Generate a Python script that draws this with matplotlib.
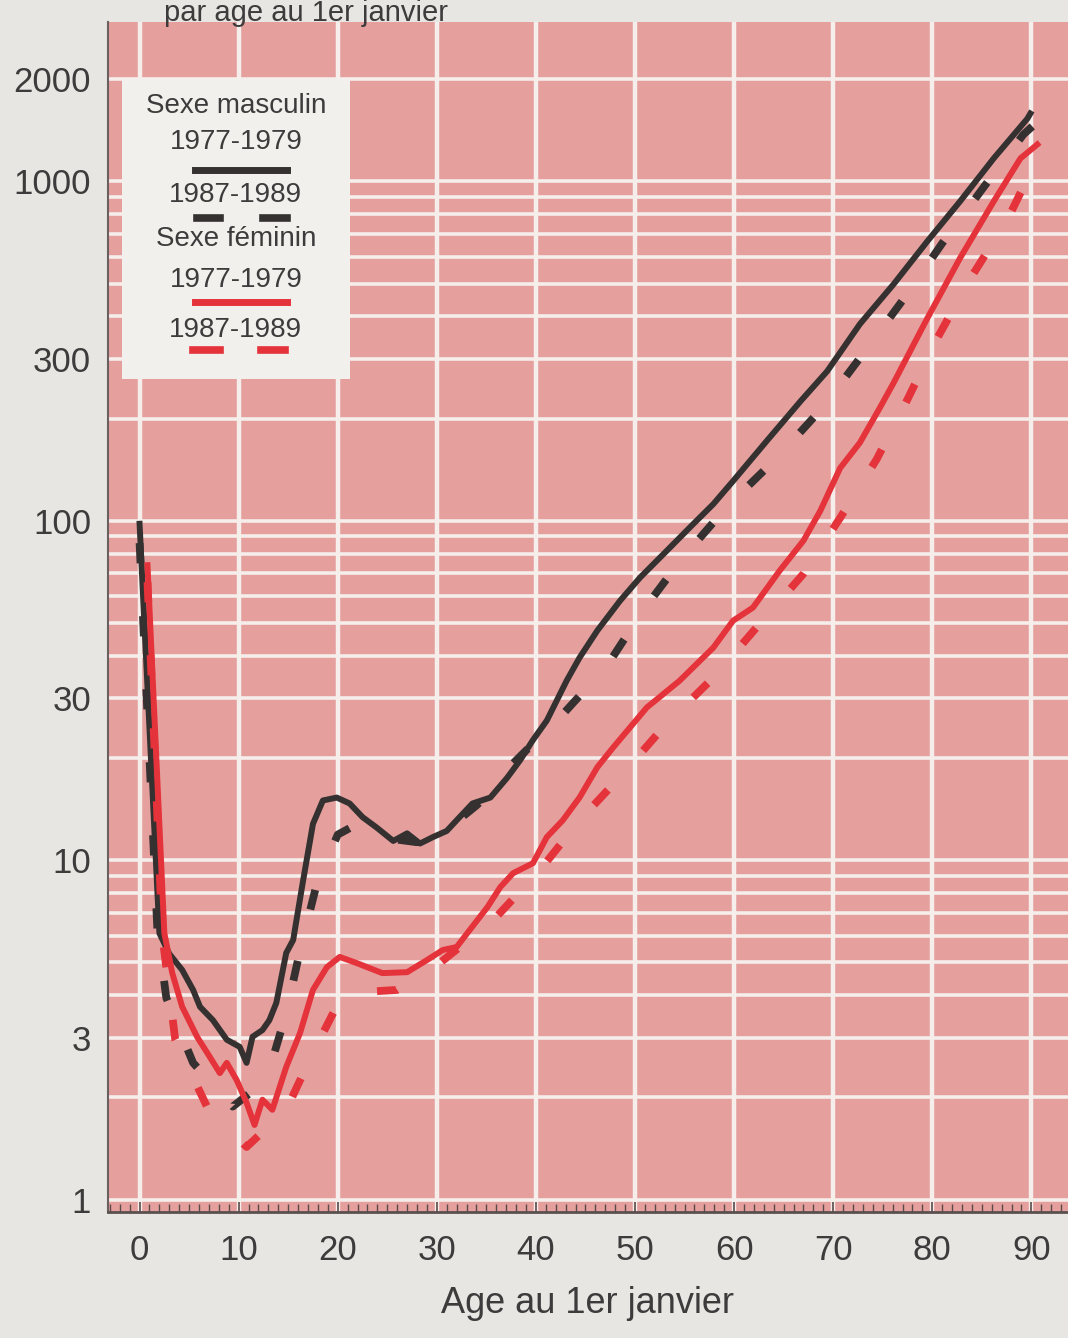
import numpy as np
import matplotlib.pyplot as plt
from matplotlib.patches import Rectangle
from matplotlib.lines import Line2D
from matplotlib.ticker import FixedLocator, LogLocator, MultipleLocator, NullFormatter

plt.rcParams["font.family"] = ["Liberation Sans", "DejaVu Sans"]

# ---------- data: quotients de mortalite (pour 10 000) par age ----------
m77_age = [0, 2, 3, 4.3, 5.4, 6.1, 7.4, 8.8, 10.1, 10.8, 11.4, 12.4, 13.1, 13.8, 14.8,
           15.5, 16.5, 17.5, 18.5, 19.9, 21.2, 22.5, 23.9, 25.6, 27.0, 28.3, 29.6, 31.0,
           32.3, 33.6, 35.4, 37.1, 38.4, 39.7, 41.1, 43.1, 44.4, 46.2, 48.5, 50.5, 53.2,
           55.9, 57.9, 59.9, 63.3, 66.7, 69.4, 72.7, 76.1, 79.5, 82.8, 86.2, 89.6, 89.9]
m77_val = [98, 6.1, 5.3, 4.75, 4.15, 3.7, 3.38, 2.96, 2.82, 2.53, 3.02, 3.16, 3.38, 3.8, 5.33,
           5.82, 8.7, 12.8, 15.0, 15.3, 14.7, 13.4, 12.5, 11.4, 12.0, 11.2, 11.7, 12.2,
           13.4, 14.7, 15.3, 17.5, 19.7, 22.6, 25.8, 33.8, 39.5, 47.5, 58.2, 68.0, 81.6,
           98.0, 112, 131, 172, 225, 276, 380, 498, 666, 873, 1169, 1531, 1585]

m87_age = [0, 1.8, 2.7, 5.4, 9.4, 12.8, 14.8, 16.2, 17.9, 20.0, 22.0, 24.0, 26.0, 28.0,
           30.0, 32.0, 34.0, 36.0, 37.7, 40.0, 42.4, 47.2, 50.8, 54.8, 59.4, 64.3, 68.9,
           73.0, 77.1, 81.0, 85.1, 89.2, 90.1]
m87_val = [86, 6.2, 3.93, 2.53, 1.88, 2.25, 3.55, 5.43, 8.56, 11.9, 12.8, 12.1, 11.5, 11.3,
           11.8, 13.0, 14.5, 16.5, 19.3, 22.5, 26.3, 37.5, 54.4, 77.8, 111, 153, 215,
           310, 450, 657, 954, 1375, 1452]

f77_age = [0.8, 2.5, 3.3, 4.3, 5.8, 7.1, 8.1, 8.8, 9.8, 10.8, 11.6, 12.4, 13.4, 14.8, 16.2,
           17.5, 18.9, 20.2, 21.9, 24.5, 27.0, 29.0, 30.6, 32.0, 33.3, 35.1, 36.4, 37.7,
           39.7, 41.1, 42.7, 44.4, 46.2, 47.8, 51.2, 54.5, 57.9, 59.9, 61.9, 64.6, 67.0,
           68.7, 70.7, 72.7, 74.7, 76.1, 79.5, 82.8, 86.2, 88.9, 90.6]
f77_val = [74, 6.1, 4.65, 3.7, 3.02, 2.63, 2.36, 2.53, 2.25, 1.93, 1.66, 1.97, 1.84, 2.46, 3.1,
           4.15, 4.84, 5.19, 4.98, 4.65, 4.68, 5.08, 5.44, 5.55, 6.22, 7.27, 8.33, 9.16,
           9.8, 11.7, 13.1, 15.3, 18.8, 21.5, 28.2, 33.8, 42.3, 50.8, 55.5, 71.3, 87.4,
           107, 143, 170, 215, 255, 395, 594, 873, 1169, 1285]

f87_age = [0.8, 2.3, 3.6, 6.8, 10.8, 14.8, 17.5, 20.2, 23.0, 26.0, 30.3, 35.7, 40.4, 44.4,
           48.8, 53.2, 57.9, 62.6, 67.0, 70.7, 74.4, 77.5, 80.5, 83.8, 87.6, 90.2]
f87_val = [66, 6.0, 2.96, 1.88, 1.43, 1.84, 2.71, 3.87, 4.1, 4.15, 4.98, 6.66, 9.35, 13.1,
           18.0, 25.3, 34.5, 49.8, 69.8, 102, 152, 228, 345, 515, 773, 1107]

y_ticks = [1, 3, 10, 30, 100, 300, 1000, 2000]
x_ticks = [0, 10, 20, 30, 40, 50, 60, 70, 80, 90]

# ---------- style ----------
BG = "#e8e6e2"
PINK = "#e5a09e"
GRID = "#f5eeeb"
BLACK = "#363131"
RED = "#e5333b"
TXT = "#3d3b3b"

fig = plt.figure(figsize=(10.68, 13.38), dpi=100, facecolor=BG)
ax = fig.add_axes([0.101, 0.0942, 0.899, 0.8894])
ax.set_facecolor(PINK)
ax.set_yscale("log")
ax.set_xlim(-3.2, 93.7)
ax.set_ylim(0.92, 2950)
ax.set_axisbelow(True)

# grid
ax.xaxis.set_major_locator(FixedLocator(x_ticks))
ax.xaxis.set_minor_locator(MultipleLocator(1))
ax.yaxis.set_major_locator(FixedLocator(y_ticks))
ax.yaxis.set_minor_locator(LogLocator(base=10, subs=np.arange(1, 10)))
ax.yaxis.set_minor_formatter(NullFormatter())
ax.set_yticklabels([str(v) for v in y_ticks])
ax.grid(True, axis="x", which="major", color=GRID, lw=3.2)
ax.grid(True, axis="y", which="both", color=GRID, lw=2.6)

ax.tick_params(axis="y", which="both", length=0, pad=12, labelsize=25, labelcolor=TXT)
ax.tick_params(axis="x", which="major", length=7, width=1.2, direction="in",
               color="#5a4a4a", pad=16, labelsize=25, labelcolor=TXT)
ax.tick_params(axis="x", which="minor", length=6, width=1.0, direction="in", color="#5a4a4a")

for s in ["top", "right"]:
    ax.spines[s].set_visible(False)
ax.spines["left"].set_color("#6a6060")
ax.spines["left"].set_linewidth(1.5)
ax.spines["bottom"].set_color("#5a5050")
ax.spines["bottom"].set_linewidth(2)

# curves
dash = (0, (2.6, 6.8))
ax.plot(m77_age, m77_val, color=BLACK, lw=4.3, solid_joinstyle="round", zorder=3)
ax.plot(m87_age, m87_val, color=BLACK, lw=5.6, linestyle=dash, dash_capstyle="butt", zorder=3)
ax.plot(f77_age, f77_val, color=RED, lw=4.3, solid_joinstyle="round", zorder=3)
ax.plot(f87_age, f87_val, color=RED, lw=5.6, linestyle=dash, dash_capstyle="butt", zorder=3)

# legend box (axes fraction)
ax.add_patch(Rectangle((0.0146, 0.700), 0.2375, 0.252, transform=ax.transAxes,
                       facecolor="#f1f0ec", edgecolor="none", zorder=5))
cx = 0.1333
rows = [("Sexe masculin", 0.9290), ("1977-1979", 0.8990), ("1987-1989", 0.8545),
        ("Sexe féminin", 0.8175), ("1977-1979", 0.7835), ("1987-1989", 0.7410)]
for label, yy in rows:
    ax.text(cx, yy, label, transform=ax.transAxes, ha="center", va="center",
            fontsize=20, color=TXT, zorder=6)

ax.add_line(Line2D([0.0906, 0.1865], [0.8755, 0.8755], transform=ax.transAxes,
                   color=BLACK, lw=5, zorder=6))
for x0, x1 in [(0.0927, 0.1167), (0.1615, 0.1865)]:
    ax.add_line(Line2D([x0, x1], [0.8355, 0.8355], transform=ax.transAxes,
                       color=BLACK, lw=5.5, zorder=6))
ax.add_line(Line2D([0.0906, 0.1865], [0.7645, 0.7645], transform=ax.transAxes,
                   color=RED, lw=5, zorder=6))
for x0, x1 in [(0.0885, 0.1167), (0.1594, 0.1844)]:
    ax.add_line(Line2D([x0, x1], [0.7245, 0.7245], transform=ax.transAxes,
                       color=RED, lw=5.5, zorder=6))

# labels
ax.set_xlabel("Age au 1er janvier", fontsize=26, color=TXT)
ax.xaxis.set_label_coords(0.5, -0.062)
fig.text(448 / 1068, 1 - 21 / 1338, "par age au 1er janvier", ha="right", va="baseline",
         fontsize=21, color=TXT)

fig.savefig("out.png", dpi=100, facecolor=BG)
